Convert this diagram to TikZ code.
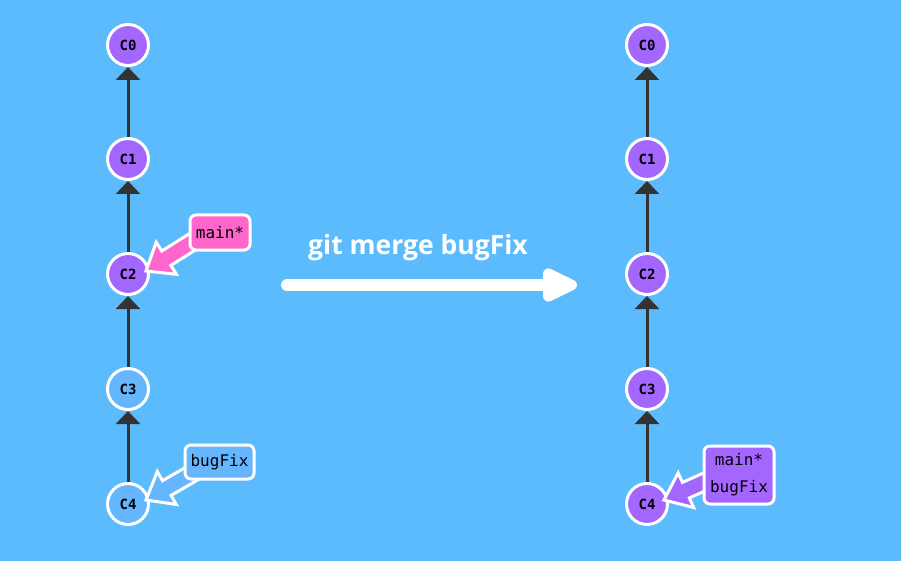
\documentclass[tikz,border=0pt]{standalone}
\usepackage{fontspec}
\usetikzlibrary{arrows.meta,calc}
\newfontfamily\monof{DejaVu Sans Mono}
\newfontfamily\titlef{Open Sans}
\definecolor{bgblue}{HTML}{5CBBFC}
\definecolor{lightnode}{HTML}{66B5FF}
\definecolor{purp}{HTML}{A366FF}
\definecolor{pinkish}{HTML}{FF66CC}
\definecolor{edgegray}{HTML}{333333}
\tikzset{
  commit/.style={circle,draw=white,line width=3pt,minimum size=41pt,inner sep=0pt,
    font=\monof\bfseries\fontsize{14}{16}\selectfont,text=black},
  done/.style={commit,fill=purp},
  pending/.style={commit,fill=lightnode},
  parent/.style={draw=edgegray,line width=3pt,-{Triangle[width=24pt,length=13pt]}},
  labelbox/.style={draw=white,line width=3pt,rounded corners=6pt,inner sep=0pt,
    font=\monof\fontsize{16}{27}\selectfont,text=black,align=center},
  fat/.style={draw=white,line width=3pt,line join=miter},
}
% fat arrow from tail coordinate #1 to tip coordinate #2, fill #3
\newcommand\fatarrow[3]{%
  \filldraw[fat,fill=#3]
    (#2) -- ($($(#2)!24pt!(#1)$)!19pt!90:(#1)$)
    -- ($($(#2)!24pt!(#1)$)!8.5pt!90:(#1)$)
    -- ($(#1)!8.5pt!-90:(#2)$)
    -- ($(#1)!8.5pt!90:(#2)$)
    -- ($($(#2)!24pt!(#1)$)!8.5pt!-90:(#1)$)
    -- ($($(#2)!24pt!(#1)$)!19pt!-90:(#1)$)
    -- cycle;}
\begin{document}
\begin{tikzpicture}[x=1pt,y=-1pt]
\fill[bgblue] (0,0) rectangle (901,561);
\useasboundingbox (0,0) rectangle (901,561);

% left column
\node[done] (l0) at (128,45) {C0};
\node[done] (l1) at (128,159) {C1};
\node[done] (l2) at (128,274) {C2};
\node[pending] (l3) at (128,389) {C3};
\node[pending] (l4) at (128,504) {C4};
\draw[parent] (l1) -- (l0);
\draw[parent] (l2) -- (l1);
\draw[parent] (l3) -- (l2);
\draw[parent] (l4) -- (l3);

% right column
\node[done] (r0) at (647,45) {C0};
\node[done] (r1) at (647,159) {C1};
\node[done] (r2) at (647,274) {C2};
\node[done] (r3) at (647,389) {C3};
\node[done] (r4) at (647,504) {C4};
\draw[parent] (r1) -- (r0);
\draw[parent] (r2) -- (r1);
\draw[parent] (r3) -- (r2);
\draw[parent] (r4) -- (r3);

% branch labels
\coordinate (mtail) at (208,232);
\coordinate (mtip) at (146,271);
\fatarrow{mtail}{mtip}{pinkish}
\node[labelbox,fill=pinkish,minimum width=60pt,minimum height=35pt] (mainlab) at (220,232.5) {main*};

\coordinate (btail) at (205,466);
\coordinate (btip) at (146,500);
\fatarrow{btail}{btip}{lightnode}
\node[labelbox,fill=lightnode,minimum width=69pt,minimum height=34pt] (buglab) at (219.5,462) {bugFix};

\coordinate (rtail) at (722,474);
\coordinate (rtip) at (664,500);
\fatarrow{rtail}{rtip}{purp}
\node[labelbox,fill=purp,minimum width=70pt,minimum height=58pt] (rlab) at (739,475) {main*\\bugFix};

% big merge arrow
\coordinate (ms) at (287,285);
\coordinate (me) at (577,285);
\draw[white,line width=12pt,line cap=round,-{Triangle[width=36pt,length=42pt,round=false]}] (ms) -- (me);
\node[text=white,font=\titlef\bfseries\fontsize{26.5}{30}\selectfont] (title) at (418,248) {git merge bugFix};
\end{tikzpicture}
\end{document}
